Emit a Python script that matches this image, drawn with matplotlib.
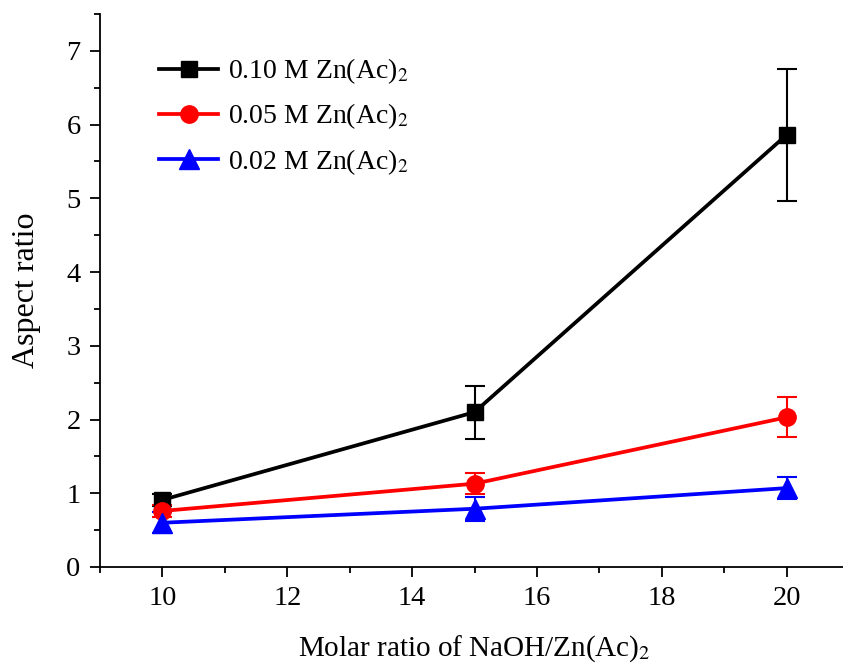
import matplotlib.pyplot as plt
from matplotlib.lines import Line2D
from matplotlib.ticker import MultipleLocator

plt.rcParams['font.family'] = ['Liberation Serif', 'DejaVu Serif']
plt.rcParams['mathtext.fontset'] = 'stix'

x = [10, 15, 20]
y_010 = [0.91, 2.10, 5.86]
e_010 = [0.08, 0.36, 0.90]
y_005 = [0.76, 1.13, 2.03]
e_005 = [0.08, 0.14, 0.27]
y_002 = [0.60, 0.79, 1.07]
e_002 = [0.14, 0.16, 0.15]
labels = [r'0.10 M Zn(Ac)$_2$', r'0.05 M Zn(Ac)$_2$', r'0.02 M Zn(Ac)$_2$']

fig = plt.figure(figsize=(8.43, 6.69), dpi=100)
ax = fig.add_axes([100 / 843, 102 / 669, 749 / 843, 553 / 669])

series = [(y_010, e_010, 'black', 's', 11.5),
          (y_005, e_005, 'red', 'o', 12.5),
          (y_002, e_002, 'blue', '^', 14)]
handles = []
for (y, e, c, m, ms), lab in zip(series, labels):
    ax.errorbar(x, y, yerr=e, color=c, marker=m, markersize=ms, lw=2.7,
                elinewidth=1.5, capsize=7, capthick=1.5)
    handles.append(Line2D([], [], color=c, marker=m, markersize=ms, lw=2.7, label=lab))

ax.set_xlim(9, 21)
ax.set_ylim(0, 7.5)
ax.xaxis.set_major_locator(MultipleLocator(2))
ax.xaxis.set_minor_locator(MultipleLocator(1))
ax.yaxis.set_major_locator(MultipleLocator(1))
ax.yaxis.set_minor_locator(MultipleLocator(0.5))
ax.tick_params(which='major', direction='out', length=7, width=1.3, labelsize=20.5, pad=7)
ax.tick_params(which='minor', direction='out', length=4, width=1.3)
for s in ['top', 'right']:
    ax.spines[s].set_visible(False)
for s in ['left', 'bottom']:
    ax.spines[s].set_linewidth(1.3)

ax.set_xlabel(r'Molar ratio of NaOH/Zn(Ac)$_2$', fontsize=21, labelpad=16)
ax.set_ylabel('Aspect ratio', fontsize=23, labelpad=18)

ax.legend(handles=handles, loc='upper left', bbox_to_anchor=(0.045, 0.968), frameon=False,
          fontsize=20, handlelength=2.15, handletextpad=0.35, labelspacing=0.55)

fig.savefig('out.png', dpi=100)
